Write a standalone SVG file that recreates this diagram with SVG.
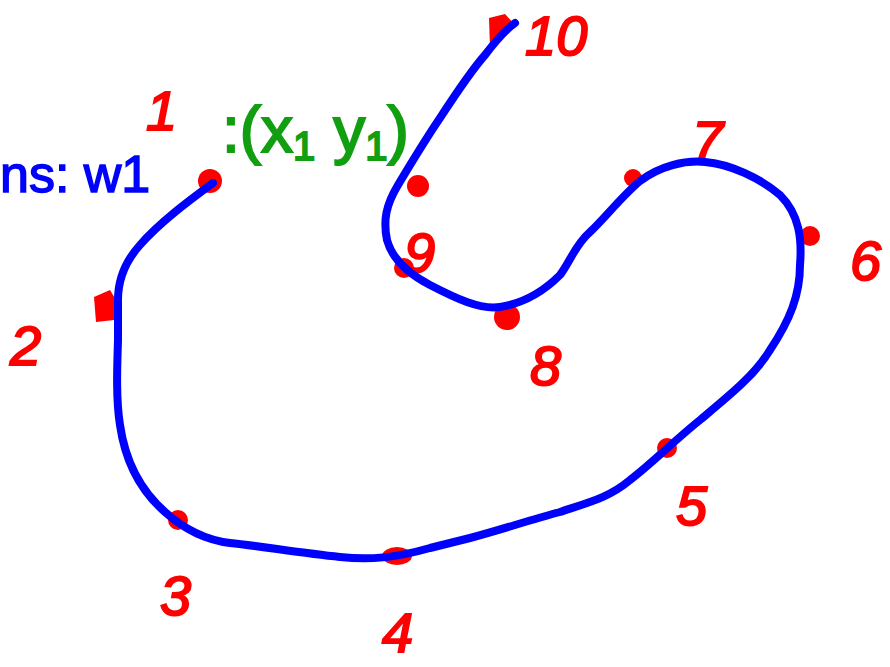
<svg xmlns="http://www.w3.org/2000/svg" width="890" height="667" viewBox="0 0 890 667">
<style>
.red{fill:#ff0000;stroke:#ff0000;stroke-width:2;font-family:"Liberation Sans",Arial,sans-serif;font-size:56px;font-style:italic}
.blue{fill:#0000ff;stroke:#0000ff;stroke-width:1.5;font-family:"Liberation Sans",Arial,sans-serif;font-size:52px}
.green{fill:#119f11;stroke:#119f11;stroke-width:2;font-family:"Liberation Sans",Arial,sans-serif;font-size:64px}
.dot{fill:#ff0000}
.curve{fill:none;stroke:#0000ff;stroke-width:8;stroke-linecap:round;stroke-linejoin:round}
</style>
<rect width="890" height="667" fill="#ffffff"/>
<g id="points">
<g id="p1"><circle class="dot" cx="210" cy="181" r="12"/><text class="red" x="146" y="130">1</text></g>
<g id="p2"><path class="dot" d="M94 297 L110 290 L116 300 L114 320 L96 322 Z"/><text class="red" x="10" y="365">2</text></g>
<g id="p3"><circle class="dot" cx="178" cy="520" r="10"/><text class="red" x="160" y="615">3</text></g>
<g id="p4"><ellipse class="dot" cx="397" cy="556" rx="15" ry="9"/><text class="red" x="382" y="652">4</text></g>
<g id="p5"><circle class="dot" cx="667" cy="448" r="10"/><text class="red" x="676" y="525">5</text></g>
<g id="p6"><circle class="dot" cx="810" cy="236" r="10"/><text class="red" x="850" y="280">6</text></g>
<g id="p7"><circle class="dot" cx="633" cy="178" r="9"/><text class="red" x="692" y="160">7</text></g>
<g id="p8"><circle class="dot" cx="507" cy="317" r="13"/><text class="red" x="530" y="385">8</text></g>
<g id="p9"><circle class="dot" cx="418" cy="186" r="11"/><circle class="dot" cx="404" cy="268" r="10"/><text class="red" x="404" y="272">9</text></g>
<g id="p10"><path class="dot" d="M489 18 L505 14 L515 25 L498 40 L490 48 Z"/><text class="red" x="525" y="55">10</text></g>
</g>
<g id="labels">
<text class="blue" x="0" y="192">ns: w1</text>
<text class="green" x="222" y="152">:(x<tspan font-size="40" dy="8">1</tspan><tspan dy="-8"> y</tspan><tspan font-size="40" dy="8">1</tspan><tspan dy="-8">)</tspan></text>
</g>
<g id="connectors">
<path class="curve" d="M213 183 C190 200 160 222 140 245 C122 265 118 285 118 300 L118 340 C117 370 116 400 120 425 C125 460 140 490 165 512 C185 530 205 540 230 543 C260 546 300 553 340 557 C370 560 395 558 430 548 L470 538 C500 530 530 520 560 512 C590 502 610 497 630 480 C650 465 675 440 700 420 C730 395 755 375 770 350 C790 320 800 295 800 265 C802 240 800 215 780 195 C760 178 730 164 705 162 C685 160 660 166 640 181 C622 196 605 218 590 232 C575 245 570 262 560 275 C545 290 525 303 500 307 C480 310 455 298 430 285 C405 272 392 258 387 240 C383 220 386 205 398 185 C410 165 425 140 440 118 C455 95 470 72 485 55 C495 42 505 30 515 23"/>
</g>
</svg>
